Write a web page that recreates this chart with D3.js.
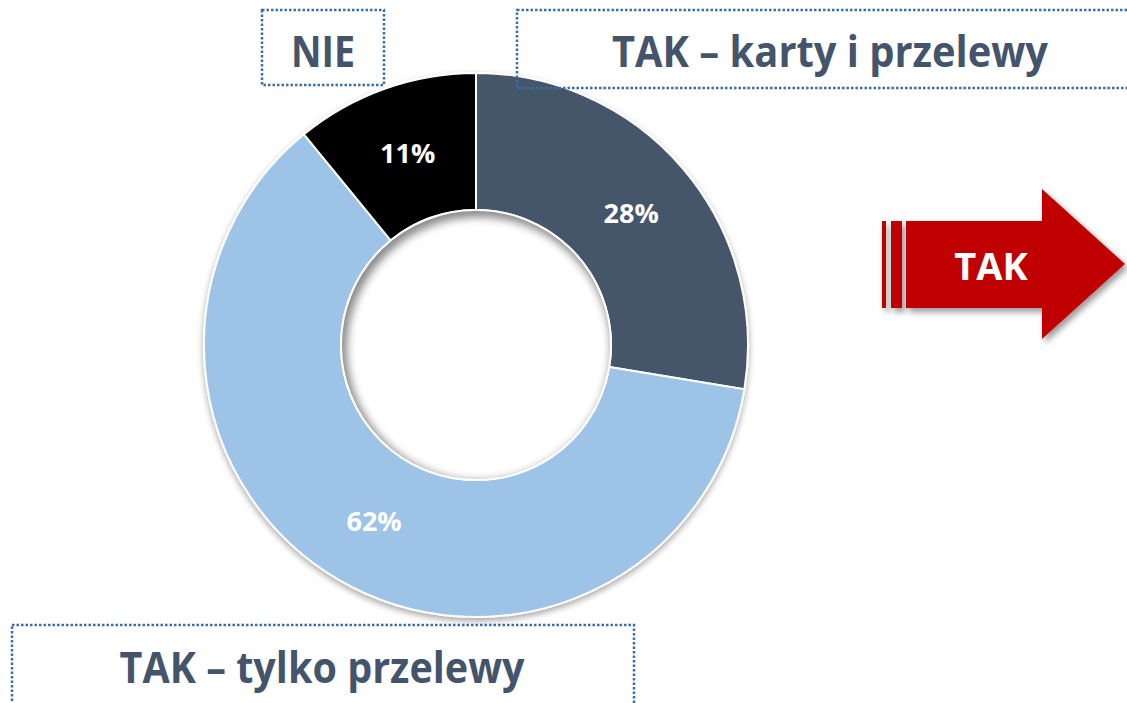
<!DOCTYPE html>
<html>
<head>
<meta charset="utf-8">
<script src="https://cdn.jsdelivr.net/npm/d3@7"></script>
<style>
  html, body { margin: 0; padding: 0; background: #fff; }
  svg { display: block; font-family: "Open Sans", "DejaVu Sans", sans-serif; }
</style>
</head>
<body>
<script>
// dane z wykresu
var categories = ["TAK – karty i przelewy", "TAK – tylko przelewy", "NIE"]
var values = [27.6, 61.5, 10.9]
var pctLabels = ["28%", "62%", "11%"]
var sliceColors = ["#44546A", "#9DC3E6", "#000000"]

var width = 1127, height = 703
var cx = 476, cy = 345
var outerR = 272, innerR = 135

var svg = d3.select("body").append("svg").attr("width", width).attr("height", height)
var defs = svg.append("defs")

// cien pod donutem
var sh = defs.append("filter").attr("id", "outerShadow")
    .attr("x", "-10%").attr("y", "-10%").attr("width", "120%").attr("height", "125%")
sh.append("feDropShadow").attr("dx", 0).attr("dy", 3).attr("stdDeviation", 3)
    .attr("flood-color", "#000").attr("flood-opacity", 0.35)

// cien strzalki
var ash = defs.append("filter").attr("id", "arrowShadow")
    .attr("x", "-10%").attr("y", "-10%").attr("width", "130%").attr("height", "140%")
ash.append("feDropShadow").attr("dx", 3).attr("dy", 4).attr("stdDeviation", 3)
    .attr("flood-color", "#000").attr("flood-opacity", 0.4)

// rozmycie do wewnetrznego cienia
defs.append("filter").attr("id", "blurIn")
    .append("feGaussianBlur").attr("stdDeviation", 4)
defs.append("clipPath").attr("id", "holeClip")
    .append("circle").attr("cx", cx).attr("cy", cy).attr("r", innerR)

var pie = d3.pie().sort(null).value(function (d) { return d })
var arc = d3.arc().innerRadius(innerR).outerRadius(outerR)
var arcs = pie(values)

var g = svg.append("g").attr("transform", "translate(" + cx + "," + cy + ")")
g.append("g").attr("filter", "url(#outerShadow)")
    .selectAll("path").data(arcs).enter().append("path")
    .attr("d", arc)
    .attr("fill", function (d, i) { return sliceColors[i] })
    .attr("stroke", "#fff")
    .attr("stroke-width", 2)

// wnetrze z cieniem
var hole = svg.append("g").attr("clip-path", "url(#holeClip)")
hole.append("circle").attr("cx", cx).attr("cy", cy).attr("r", innerR).attr("fill", "#8a8a8a")
hole.append("circle").attr("cx", cx + 3).attr("cy", cy + 4).attr("r", innerR - 3)
    .attr("fill", "#fff").attr("filter", "url(#blurIn)")
svg.append("circle").attr("cx", cx).attr("cy", cy).attr("r", innerR)
    .attr("fill", "none").attr("stroke", "#fff").attr("stroke-width", 2)

g.selectAll("text.pct").data(arcs).enter().append("text")
    .attr("class", "pct")
    .attr("transform", function (d) { return "translate(" + arc.centroid(d) + ")" })
    .attr("text-anchor", "middle")
    .attr("dy", "0.36em")
    .attr("fill", "#fff")
    .attr("font-weight", "bold")
    .attr("font-size", 27)
    .text(function (d, i) { return pctLabels[i] })

// ramki z podpisami
var boxes = [
    {x: 262, y: 10, w: 122, h: 75, tx: 323, ty: 67, len: 64, text: categories[2]},
    {x: 517, y: 10, w: 640, h: 78, tx: 830, ty: 67, len: 436, text: categories[0]},
    {x: 12, y: 625, w: 622, h: 100, tx: 322, ty: 683, len: 405, text: categories[1]}
]
var bg = svg.append("g")
bg.selectAll("rect").data(boxes).enter().append("rect")
    .attr("x", function (d) { return d.x }).attr("y", function (d) { return d.y })
    .attr("width", function (d) { return d.w }).attr("height", function (d) { return d.h })
    .attr("fill", "none")
    .attr("stroke", "#3A6FA5")
    .attr("stroke-width", 2.5)
    .attr("stroke-dasharray", "2.5,2")
bg.selectAll("text").data(boxes).enter().append("text")
    .attr("x", function (d) { return d.tx }).attr("y", function (d) { return d.ty })
    .attr("text-anchor", "middle")
    .attr("fill", "#44546A")
    .attr("font-weight", "bold")
    .attr("font-size", 43)
    .attr("textLength", function (d) { return d.len })
    .attr("lengthAdjust", "spacingAndGlyphs")
    .text(function (d) { return d.text })

// strzalka TAK
var ar = svg.append("g").attr("filter", "url(#arrowShadow)")
ar.append("rect").attr("x", 882).attr("y", 221).attr("width", 4).attr("height", 87).attr("fill", "#C00000")
ar.append("rect").attr("x", 891).attr("y", 221).attr("width", 11).attr("height", 87).attr("fill", "#C00000")
ar.append("path")
    .attr("d", "M906,221 L1042,221 L1042,189 L1125,264 L1042,339 L1042,308 L906,308 Z")
    .attr("fill", "#C00000")
svg.append("text").attr("x", 991).attr("y", 280)
    .attr("text-anchor", "middle")
    .attr("fill", "#fff")
    .attr("font-weight", "bold")
    .attr("font-size", 38)
    .text("TAK")
</script>
</body>
</html>
